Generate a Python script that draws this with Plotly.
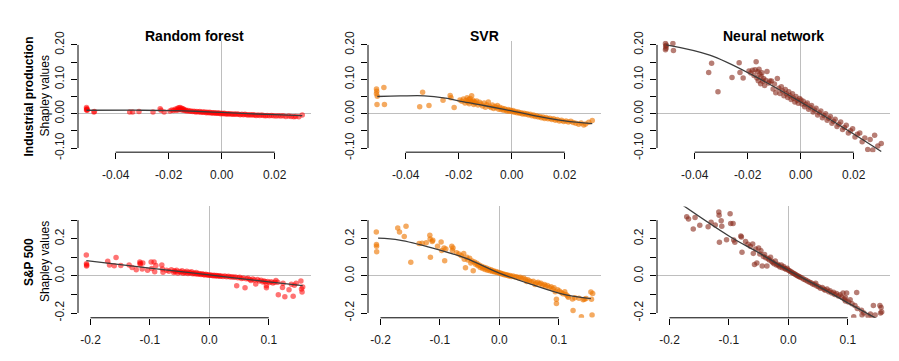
import plotly.graph_objects as go

# ---------------- data ----------------
models = ["Random forest", "SVR", "Neural network"]
features = ["Industrial production", "S&P 500"]

# Industrial production (top row): feature values and Shapley values per model
ip_x = [-0.0510, -0.0510, -0.0509, -0.0508, -0.0507, -0.0482, -0.0480, -0.0347, -0.0336, -0.0312,
        -0.0259, -0.0232, -0.0229, -0.0217, -0.0195, -0.0188, -0.0182, -0.0176, -0.0172, -0.0168,
        -0.0165, -0.0162, -0.0160, -0.0157, -0.0154, -0.0151, -0.0149, -0.0146, -0.0143, -0.0140,
        -0.0136, -0.0132, -0.0127, -0.0121, -0.0116, -0.0110, -0.0104, -0.0099, -0.0094, -0.0088,
        -0.0083, -0.0078, -0.0073, -0.0068, -0.0063, -0.0058, -0.0054, -0.0049, -0.0045, -0.0040,
        -0.0036, -0.0031, -0.0027, -0.0022, -0.0018, -0.0013, -0.0009, -0.0004, 0.0001, 0.0005,
        0.0010, 0.0015, 0.0020, 0.0025, 0.0030, 0.0036, 0.0041, 0.0047, 0.0052, 0.0058,
        0.0064, 0.0070, 0.0076, 0.0082, 0.0088, 0.0094, 0.0100, 0.0106, 0.0112, 0.0118,
        0.0124, 0.0130, 0.0137, 0.0144, 0.0151, 0.0158, 0.0165, 0.0172, 0.0180, 0.0188,
        0.0196, 0.0205, 0.0214, 0.0223, 0.0232, 0.0242, 0.0253, 0.0262, 0.0272, 0.0279,
        0.0291, 0.0304]
ip_rf = [0.018, 0.011, 0.014, 0.012, 0.010, 0.005, 0.006, 0.005, 0.005, 0.006,
         0.005, 0.014, 0.010, 0.005, 0.008, 0.011, 0.009, 0.013, 0.010, 0.015,
         0.011, 0.017, 0.012, 0.018, 0.013, 0.016, 0.010, 0.014, 0.012, 0.009,
         0.011, 0.008, 0.009, 0.007, 0.008, 0.006, 0.007, 0.005, 0.006, 0.005,
         0.006, 0.004, 0.005, 0.004, 0.005, 0.003, 0.004, 0.003, 0.004, 0.002,
         0.003, 0.002, 0.003, 0.001, 0.002, 0.001, 0.002, 0.000, 0.001, 0.000,
         0.001, -0.001, 0.000, -0.001, 0.000, -0.001, -0.002, -0.001, -0.002, -0.001,
         -0.002, -0.003, -0.002, -0.003, -0.002, -0.003, -0.004, -0.003, -0.004, -0.003,
         -0.004, -0.005, -0.004, -0.005, -0.004, -0.005, -0.006, -0.005, -0.006, -0.005,
         -0.006, -0.007, -0.006, -0.007, -0.006, -0.008, -0.007, -0.008, -0.009, -0.008,
         -0.009, -0.004]
ip_svr = [0.072, 0.058, 0.065, 0.027, 0.051, 0.076, 0.027, 0.020, 0.062, 0.024,
          0.039, 0.053, 0.046, 0.018, 0.040, 0.036, 0.043, 0.031, 0.038, 0.046,
          0.034, 0.041, 0.029, 0.044, 0.036, 0.052, 0.033, 0.039, 0.027, 0.035,
          0.030, 0.037, 0.025, 0.033, 0.028, 0.022, 0.031, 0.019, 0.026, 0.034,
          0.021, 0.018, 0.025, 0.015, 0.021, 0.017, 0.024, 0.013, 0.019, 0.012,
          0.016, 0.010, 0.014, 0.011, 0.008, 0.012, 0.007, 0.010, 0.006, 0.009,
          0.004, 0.006, 0.003, 0.005, 0.001, 0.003, -0.001, 0.001, -0.002, 0.000,
          -0.004, -0.002, -0.006, -0.004, -0.008, -0.006, -0.010, -0.008, -0.012, -0.010,
          -0.014, -0.011, -0.015, -0.013, -0.017, -0.015, -0.019, -0.017, -0.021, -0.019,
          -0.023, -0.021, -0.024, -0.022, -0.026, -0.028, -0.031, -0.027, -0.033, -0.030,
          -0.025, -0.020]
ip_nn = [0.204, 0.186, 0.196, 0.190, 0.199, 0.204, 0.184, 0.120, 0.147, 0.064,
         0.105, 0.148, 0.120, 0.104, 0.124, 0.118, 0.126, 0.111, 0.128, 0.151,
         0.104, 0.122, 0.096, 0.129, 0.115, 0.087, 0.108, 0.119, 0.094, 0.102,
         0.082, 0.097, 0.123, 0.089, 0.095, 0.095, 0.072, 0.086, 0.061, 0.102,
         0.074, 0.059, 0.078, 0.066, 0.052, 0.070, 0.058, 0.047, 0.064, 0.052,
         0.041, 0.058, 0.045, 0.034, 0.050, 0.039, 0.030, 0.044, 0.040, 0.028,
         0.036, 0.020, 0.027, 0.031, 0.013, 0.019, 0.024, 0.005, 0.011, 0.016,
         -0.004, 0.003, 0.008, -0.012, -0.005, 0.000, -0.019, -0.013, -0.008, -0.028,
         -0.022, -0.016, -0.037, -0.031, -0.024, -0.046, -0.040, -0.034, -0.056, -0.050,
         -0.044, -0.068, -0.060, -0.056, -0.082, -0.071, -0.104, -0.075, -0.106, -0.063,
         -0.094, -0.087]

# S&P 500 (bottom row)
sp_x = [-0.2070, -0.2068, -0.2066, -0.2064, -0.1710, -0.1680, -0.1600, -0.1570, -0.1490, -0.1350,
        -0.1300, -0.1230, -0.1170, -0.1165, -0.1160, -0.1130, -0.1120, -0.1040, -0.0980, -0.0970,
        -0.0930, -0.0920, -0.0900, -0.0800, -0.0790, -0.0780, -0.0720, -0.0680, -0.0640, -0.0600,
        -0.0590, -0.0570, -0.0550, -0.0530, -0.0500, -0.0480, -0.0460, -0.0440, -0.0420, -0.0400,
        -0.0380, -0.0360, -0.0340, -0.0320, -0.0300, -0.0280, -0.0260, -0.0240, -0.0220, -0.0200,
        -0.0180, -0.0160, -0.0140, -0.0120, -0.0100, -0.0080, -0.0060, -0.0040, -0.0020, 0.0000,
        0.0020, 0.0040, 0.0060, 0.0080, 0.0100, 0.0120, 0.0140, 0.0160, 0.0180, 0.0200,
        0.0230, 0.0260, 0.0290, 0.0320, 0.0350, 0.0380, 0.0410, 0.0440, 0.0460, 0.0480,
        0.0510, 0.0540, 0.0570, 0.0600, 0.0620, 0.0650, 0.0680, 0.0700, 0.0730, 0.0760,
        0.0780, 0.0810, 0.0840, 0.0870, 0.0900, 0.0920, 0.0940, 0.0960, 0.0960, 0.0980,
        0.1010, 0.1040, 0.1070, 0.1100, 0.1120, 0.1150, 0.1160, 0.1230, 0.1240, 0.1270,
        0.1340, 0.1380, 0.1410, 0.1430, 0.1460, 0.1540, 0.1550, 0.1560, 0.1570]
sp_rf = [0.113, 0.065, 0.053, 0.058, 0.079, 0.058, 0.055, 0.099, 0.056, 0.058,
         0.045, 0.033, 0.075, 0.063, 0.068, 0.037, 0.070, 0.031, 0.075, 0.040,
         0.075, 0.022, 0.056, 0.058, 0.037, 0.020, 0.030, 0.025, 0.033, 0.018,
         0.027, 0.022, 0.030, 0.016, 0.024, 0.019, 0.028, 0.014, 0.021, 0.017,
         0.025, 0.013, 0.019, 0.015, 0.022, 0.011, 0.016, 0.012, 0.018, 0.009,
         0.013, 0.010, 0.007, 0.012, 0.008, 0.005, 0.009, 0.006, 0.004, 0.005,
         0.003, 0.004, 0.001, 0.003, 0.000, 0.002, -0.001, 0.001, -0.002, 0.000,
         -0.003, -0.001, -0.004, -0.002, -0.006, -0.004, -0.008, -0.006, -0.053, -0.010,
         -0.008, -0.014, -0.011, -0.064, -0.016, -0.013, -0.019, -0.025, -0.017, -0.022,
         -0.044, -0.020, -0.028, -0.024, -0.033, -0.027, -0.031, -0.064, -0.053, -0.030,
         -0.036, -0.032, -0.038, -0.034, -0.025, -0.034, -0.101, -0.062, -0.040, -0.113,
         -0.074, -0.045, -0.110, -0.050, -0.039, -0.027, -0.070, -0.087, -0.060]
sp_svr = [0.236, 0.169, 0.159, 0.130, 0.258, 0.236, 0.212, 0.267, 0.073, 0.174,
          0.176, 0.178, 0.219, 0.199, 0.101, 0.185, 0.192, 0.160, 0.182, 0.137,
          0.150, 0.082, 0.145, 0.160, 0.137, 0.150, 0.125, 0.118, 0.108, 0.121,
          0.090, 0.044, 0.100, 0.085, 0.095, 0.070, 0.080, 0.027, 0.075, 0.062,
          0.068, 0.055, 0.058, 0.045, 0.052, 0.040, 0.047, 0.035, 0.043, 0.030,
          0.037, 0.028, 0.033, 0.024, 0.027, 0.021, 0.024, 0.018, 0.020, 0.014,
          0.016, 0.010, 0.012, 0.006, 0.008, 0.003, 0.005, 0.000, 0.002, -0.003,
          -0.001, -0.006, -0.004, -0.010, -0.008, -0.014, -0.012, -0.019, -0.030, -0.021,
          -0.027, -0.033, -0.029, -0.047, -0.038, -0.034, -0.044, -0.040, -0.050, -0.046,
          -0.056, -0.052, -0.062, -0.058, -0.070, -0.064, -0.086, -0.126, -0.149, -0.075,
          -0.082, -0.090, -0.096, -0.085, -0.100, -0.108, -0.115, -0.125, -0.186, -0.118,
          -0.120, -0.220, -0.128, -0.126, -0.122, -0.087, -0.126, -0.210, -0.095]
sp_nn = [0.420, 0.455, 0.430, 0.445, 0.318, 0.306, 0.253, 0.315, 0.272, 0.265,
         0.289, 0.274, 0.344, 0.327, 0.181, 0.297, 0.267, 0.195, 0.335, 0.282,
         0.282, 0.193, 0.181, 0.215, 0.210, 0.127, 0.185, 0.170, 0.160, 0.172,
         0.121, 0.061, 0.145, 0.070, 0.150, 0.118, 0.135, 0.053, 0.105, 0.115,
         0.098, 0.053, 0.092, 0.085, 0.100, 0.078, 0.072, 0.065, 0.080, 0.058,
         0.063, 0.055, 0.048, 0.058, 0.044, 0.050, 0.040, 0.036, 0.041, 0.030,
         0.027, 0.022, 0.019, 0.014, 0.012, 0.007, 0.004, 0.000, -0.003, -0.008,
         -0.012, -0.018, -0.022, -0.028, -0.033, -0.037, -0.044, -0.048, -0.040, -0.055,
         -0.058, -0.066, -0.062, -0.072, -0.078, -0.070, -0.085, -0.080, -0.092, -0.088,
         -0.100, -0.095, -0.108, -0.102, -0.115, -0.092, -0.125, -0.118, -0.135, -0.092,
         -0.140, -0.128, -0.150, -0.220, -0.160, -0.090, -0.175, -0.185, -0.210, -0.200,
         -0.215, -0.205, -0.230, -0.159, -0.210, -0.159, -0.200, -0.170, -0.195]

# smooth fitted curves
ip_fit_x_rf = [-0.0510, -0.0330, -0.0180, -0.0100, 0.0000, 0.0100, 0.0200, 0.0304]
ip_fit_rf = [0.0100, 0.0101, 0.0088, 0.0070, 0.0035, 0.0000, -0.0030, -0.0055]
ip_fit_x_svr = [-0.0507, -0.0420, -0.0330, -0.0250, -0.0180, -0.0100, 0.0000, 0.0100, 0.0200, 0.0304]
ip_fit_svr = [0.050, 0.0515, 0.052, 0.045, 0.034, 0.023, 0.008, -0.008, -0.021, -0.029]
ip_fit_x_nn = [-0.0507, -0.0343, -0.0174, 0.0000, 0.0200, 0.0304]
ip_fit_nn = [0.200, 0.170, 0.109, 0.034, -0.059, -0.110]

sp_fit_x_rf = [-0.207, -0.100, 0.000, 0.100, 0.157]
sp_fit_rf = [0.082, 0.042, 0.005, -0.032, -0.053]
sp_fit_x_svr = [-0.204, -0.168, -0.112, -0.057, 0.000, 0.054, 0.110, 0.154]
sp_fit_svr = [0.203, 0.193, 0.150, 0.096, 0.015, -0.046, -0.101, -0.123]
sp_fit_x_nn = [-0.200, -0.100, -0.050, 0.000, 0.050, 0.100, 0.160]
sp_fit_nn = [0.430, 0.215, 0.125, 0.030, -0.055, -0.145, -0.250]

# ticks
ip_xticks = [-0.04, -0.02, 0.00, 0.02]
ip_xlabels = ["-0.04", "-0.02", "0.00", "0.02"]
ip_yticks = [-0.10, -0.05, 0.00, 0.05, 0.10, 0.15, 0.20]
ip_ylabels = ["-0.10", "", "0.00", "", "0.10", "", "0.20"]
sp_xticks = [-0.2, -0.1, 0.0, 0.1]
sp_xlabels = ["-0.2", "-0.1", "0.0", "0.1"]
sp_yticks = [-0.2, -0.1, 0.0, 0.1, 0.2, 0.3]
sp_ylabels = ["-0.2", "", "0.0", "", "0.2", ""]

# ---------------- layout ----------------
OFF = 8  # default page body margin
W, H = 899 - OFF, 361 - OFF
FONT = "Liberation Sans, Arial, Helvetica, sans-serif"
col_px = [(78, 311), (368, 601), (657, 890)]
row_px = [(33, 150), (207, 324)]
x_ranges = [[-0.0542, 0.0337], [-0.221, 0.171]]
y_ranges = [[-0.112, 0.212], [-0.2256, 0.374]]

colors = ["rgba(255,0,0,0.55)", "rgba(238,118,0,0.62)", "rgba(135,40,25,0.6)"]
line_color = "#3c3c3c"

rows = [
    dict(x=ip_x, ys=[ip_rf, ip_svr, ip_nn],
         fx=[ip_fit_x_rf, ip_fit_x_svr, ip_fit_x_nn], fy=[ip_fit_rf, ip_fit_svr, ip_fit_nn],
         xt=ip_xticks, xl=ip_xlabels, yt=ip_yticks, yl=ip_ylabels),
    dict(x=sp_x, ys=[sp_rf, sp_svr, sp_nn],
         fx=[sp_fit_x_rf, sp_fit_x_svr, sp_fit_x_nn], fy=[sp_fit_rf, sp_fit_svr, sp_fit_nn],
         xt=sp_xticks, xl=sp_xlabels, yt=sp_yticks, yl=sp_ylabels),
]


def px_to_paper_x(p):
    return (p - OFF) / W


def px_to_paper_y(p):
    return 1 - (p - OFF) / H


fig = go.Figure()
shapes = []
annotations = []
layout_axes = {}

for r, row in enumerate(rows):
    for c in range(3):
        i = r * 3 + c + 1
        xs = "" if i == 1 else str(i)
        xa, ya = "x" + xs, "y" + xs
        fig.add_trace(go.Scatter(
            x=row["x"], y=row["ys"][c], mode="markers", xaxis=xa, yaxis=ya,
            marker=dict(size=5.5, color=colors[c], line=dict(width=0)),
            showlegend=False, hoverinfo="skip"))
        fig.add_trace(go.Scatter(
            x=row["fx"][c], y=row["fy"][c], mode="lines", xaxis=xa, yaxis=ya,
            line=dict(color=line_color, width=1.3, shape="spline", smoothing=1.0),
            showlegend=False, hoverinfo="skip"))

        xd = [px_to_paper_x(col_px[c][0]), px_to_paper_x(col_px[c][1])]
        yd = [px_to_paper_y(row_px[r][1]), px_to_paper_y(row_px[r][0])]
        common = dict(showgrid=False, showline=False, ticks="outside", ticklen=6, tickwidth=1,
                      tickcolor="black", zeroline=True, zerolinecolor="#BEBEBE", zerolinewidth=1,
                      tickfont=dict(family=FONT, size=12, color="#1a1a1a"), fixedrange=True)
        layout_axes["xaxis" + xs] = dict(domain=xd, range=x_ranges[r], anchor=ya,
                                         tickmode="array", tickvals=row["xt"], ticktext=row["xl"],
                                         ticklabelstandoff=5, **common)
        layout_axes["yaxis" + xs] = dict(domain=yd, range=y_ranges[r], anchor=xa,
                                         tickmode="array", tickvals=row["yt"], ticktext=row["yl"],
                                         tickangle=-90, ticklabelstandoff=2, **common)

        # R-style axis lines spanning first to last tick
        xr, yr = x_ranges[r], y_ranges[r]

        def mx(v):
            return xd[0] + (v - xr[0]) / (xr[1] - xr[0]) * (xd[1] - xd[0])

        def my(v):
            return yd[0] + (v - yr[0]) / (yr[1] - yr[0]) * (yd[1] - yd[0])

        shapes.append(dict(type="line", xref="paper", yref="paper",
                           x0=mx(row["xt"][0]), x1=mx(row["xt"][-1]), y0=yd[0], y1=yd[0],
                           line=dict(color="black", width=1), layer="above"))
        shapes.append(dict(type="line", xref="paper", yref="paper",
                           x0=xd[0], x1=xd[0], y0=my(row["yt"][0]), y1=my(row["yt"][-1]),
                           line=dict(color="black", width=1), layer="above"))

        if r == 0:
            annotations.append(dict(text="<b>" + models[c] + "</b>", xref="paper", yref="paper",
                                    x=(xd[0] + xd[1]) / 2, y=px_to_paper_y(28), xanchor="center",
                                    yanchor="middle", showarrow=False,
                                    font=dict(family=FONT, size=14, color="black")))
    # row labels
    yc = px_to_paper_y((row_px[r][0] + row_px[r][1]) / 2)
    annotations.append(dict(text="<b>" + features[r] + "</b>", xref="paper", yref="paper",
                            x=px_to_paper_x(29), y=yc, xanchor="center", yanchor="middle",
                            textangle=-90, showarrow=False,
                            font=dict(family=FONT, size=12, color="black")))
    annotations.append(dict(text="Shapley values", xref="paper", yref="paper",
                            x=px_to_paper_x(45), y=yc, xanchor="center", yanchor="middle",
                            textangle=-90, showarrow=False,
                            font=dict(family=FONT, size=12, color="black")))

fig.update_layout(
    width=W, height=H, margin=dict(l=0, r=0, t=0, b=0),
    paper_bgcolor="white", plot_bgcolor="rgba(0,0,0,0)",
    shapes=shapes, annotations=annotations, **layout_axes)

fig.write_html("out.html")
